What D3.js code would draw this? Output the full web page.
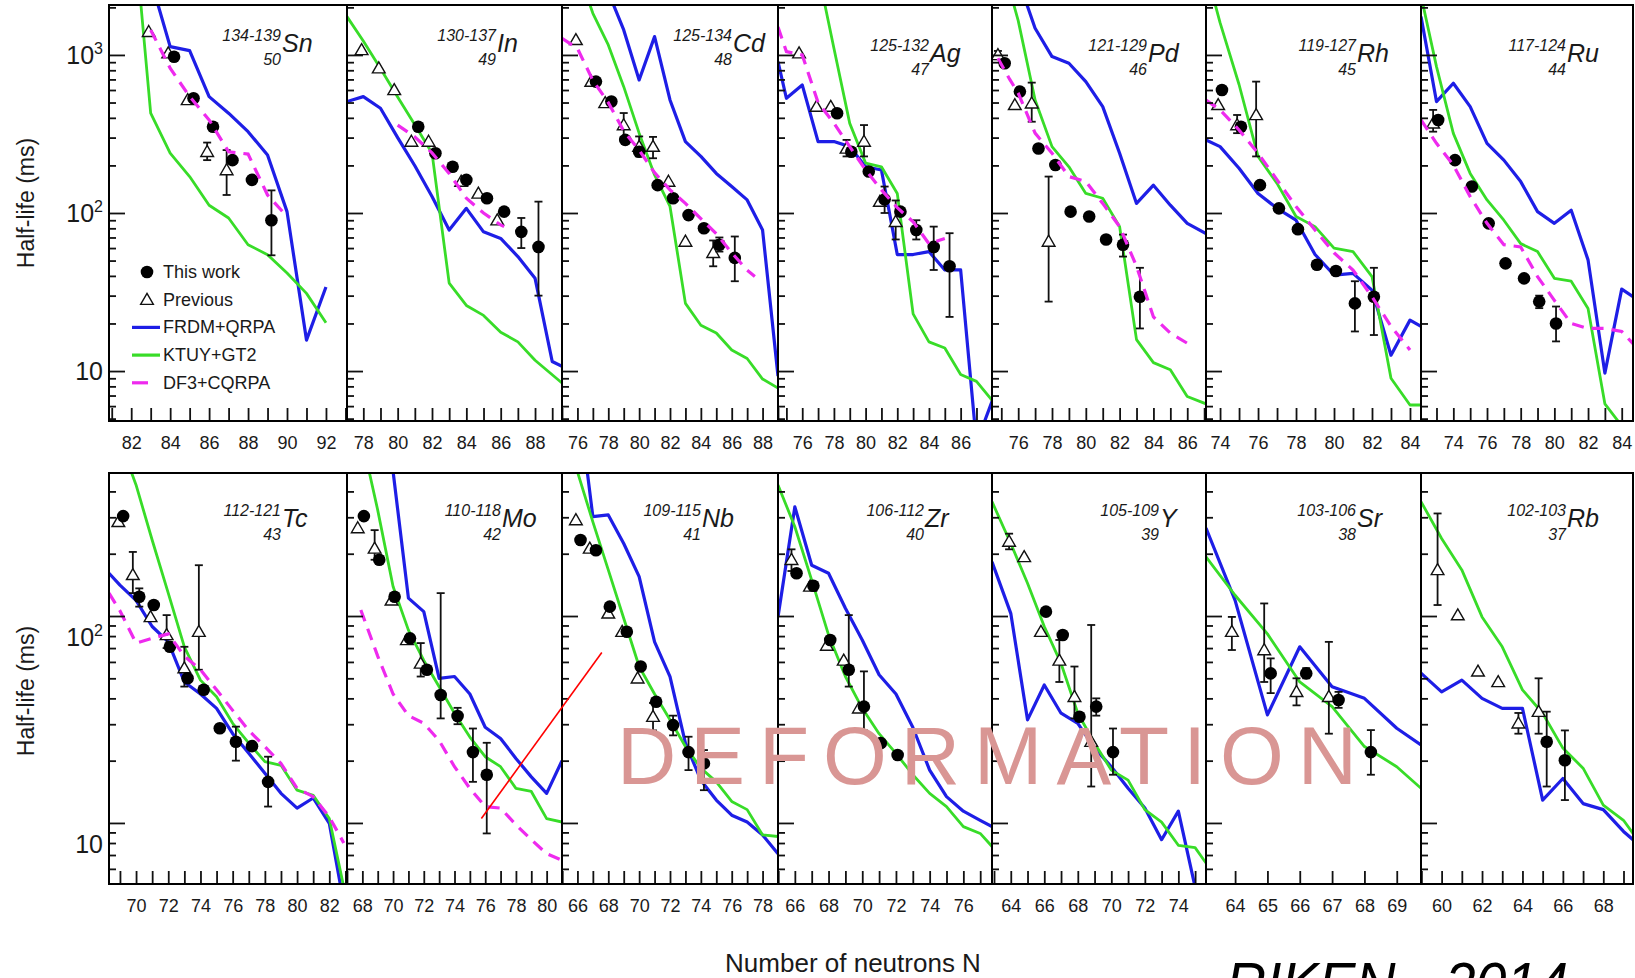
<!DOCTYPE html>
<html>
<head>
<meta charset="utf-8">
<script src="https://cdn.jsdelivr.net/npm/d3@7"></script>
<style>
  html, body { margin: 0; padding: 0; background: #fff; }
  svg { display: block; }
  text { font-family: "Liberation Sans", Arial, Helvetica, sans-serif; fill: #1a1a1a; }
</style>
</head>
<body>
<svg id="chart" width="1635" height="978"></svg>
<script>
// Half-lives (ms) versus neutron number N, one panel per element.
// Points: [N, T1/2] or [N, T1/2, low, high] when an error bar is drawn.
// Model curves: [N, T1/2].

const symbols = ["Sn", "In", "Cd", "Ag", "Pd", "Rh", "Ru", "Tc", "Mo", "Nb", "Zr", "Y", "Sr", "Rb"];
const protons = [50, 49, 48, 47, 46, 45, 44, 43, 42, 41, 40, 39, 38, 37];
const massRanges = ["134-139", "130-137", "125-134", "125-132", "121-129", "119-127", "117-124",
                    "112-121", "110-118", "109-115", "106-112", "105-109", "103-106", "102-103"];
const nRanges = [
  [80.86, 93.08], [77.05, 89.57], [75, 89], [74.47, 87.98], [74.45, 87.11], [73.26, 84.58], [72.08, 84.67],
  [68.32, 83.1], [67, 81], [65, 79], [65, 77.7], [62.88, 75.65], [63.1, 69.75], [58.98, 69.47]
];
const labelSteps = [2, 2, 2, 2, 2, 2, 2, 2, 2, 2, 2, 2, 1, 2];
const legendLabels = ["This work", "Previous", "FRDM+QRPA", "KTUY+GT2", "DF3+CQRPA"];

// --- Sn
const snWork = [[84.2, 975], [85.2, 532], [86.2, 351], [87.2, 216], [88.2, 162], [89.2, 90, 54, 139]];
const snPrev = [[82.9, 1400], [83.9, 1025], [84.9, 519], [85.9, 244, 216, 279], [86.9, 187, 130, 250]];
const snFrdm = [[83, 3000], [84, 1129], [85, 1064], [86, 545], [87, 428], [88, 327], [89, 233], [90, 102], [91, 15.7], [92, 34]];
const snKtuy = [[82, 10000], [83, 428], [84, 239], [85, 170], [86, 112], [87, 93], [88, 63], [89, 54.5], [90, 41.7], [91, 31], [92, 20.2]];
const snDf3 = [[83, 1440], [84, 824], [85, 545], [86, 388], [87, 244], [88, 236], [89, 130], [90, 95]];

// --- In
const inWork = [[81.2, 351], [82.2, 239], [83.2, 196], [84.0, 162], [85.2, 124], [86.2, 102], [87.2, 76, 60, 93], [88.2, 61, 30, 118]];
const inPrev = [[77.9, 1075], [78.9, 824], [79.8, 600], [80.8, 283], [81.8, 283], [83.7, 158], [84.7, 133], [85.8, 90]];
const inFrdm = [[77.05, 507], [78, 545], [79, 460], [80, 300], [81, 199], [82, 127], [83, 78], [84, 107], [85, 76], [86, 69], [87, 53], [88, 38.7], [89, 11.5], [89.57, 10.7]];
const inKtuy = [[77.05, 1747], [78, 1226], [79, 820], [80, 542], [81, 362], [82, 240], [83, 36], [84, 26], [85, 22.5], [86, 17.6], [87, 15.3], [88, 11.7], [89.57, 8.4]];
const inDf3 = [[80, 360], [81, 303], [82, 240], [83, 178], [84, 124], [85, 100], [86, 84], [86.2, 82]];

// --- Cd
const cdWork = [[77.2, 678], [78.2, 507], [79.1, 290], [80.0, 244], [81.2, 150], [82.2, 124], [83.2, 97], [84.2, 80], [85.2, 63, 57, 70], [86.2, 52, 37, 71]];
const cdPrev = [[75.9, 1245], [76.9, 678], [77.8, 497], [79, 360, 303, 429], [80, 263, 228, 305], [80.9, 263, 222, 303], [81.9, 158], [83, 66], [84.8, 56, 46, 67]];
const cdFrdm = [[78, 2500], [79, 1440], [80, 695], [81, 1306], [82, 519], [83, 283], [84, 228], [85, 178], [86, 147], [87, 121], [88, 78], [89, 9.3]];
const cdKtuy = [[76, 3500], [77, 1835], [78, 1157], [79, 630], [80, 320], [81, 174], [82, 110], [83, 26.8], [84, 19.5], [85, 17.4], [86, 13.6], [87, 12.0], [88, 8.9], [89, 7.8]];
const cdDf3 = [[75, 1275], [76, 1100], [77, 690], [78, 500], [79, 330], [80, 250], [81, 180], [82, 140], [83, 115], [84, 92], [85, 74], [86, 56], [87, 43.5], [87.5, 39.7]];

// --- Ag
const agWork = [[78.2, 428], [79.1, 244], [80.2, 183], [81.2, 122, 100, 147], [82.2, 102], [83.2, 78, 68, 90], [84.3, 61, 43.6, 82], [85.3, 46, 22, 74.5]];
const agPrev = [[75.8, 1025], [76.9, 471], [77.8, 471], [78.8, 256, 228, 290], [79.9, 283, 228, 360], [80.9, 118], [81.9, 88, 68, 120]];
const agFrdm = [[74.47, 907], [75, 532], [76, 646], [77, 283], [78, 283], [79, 263], [80, 196], [81, 187], [82, 54.6], [83, 54.6], [84, 57], [85, 43.6], [86, 43.6], [87, 3.5], [88, 6.5]];
const agKtuy = [[77, 3350], [78, 1102], [79, 369], [80, 207], [81, 196], [82, 133], [83, 23], [84, 15.3], [85, 14.0], [86, 9.5], [87, 8.6], [88, 6.5]];
const agDf3 = [[74.47, 1500], [75, 1050], [76, 1000], [77, 500], [78, 370], [79, 263], [80, 187], [81, 140], [82, 108], [83, 88], [84, 64], [85, 69]];

// --- Pd
const pdWork = [[75.2, 886], [76.1, 586], [77.2, 256], [78.2, 201], [79.1, 102], [80.2, 95], [81.2, 68], [82.2, 63, 53, 73], [83.2, 29.5, 18.6, 45]];
const pdPrev = [[74.8, 1000, 940, 1060], [75.8, 483], [76.8, 494, 378, 668], [77.8, 66, 27.5, 170]];
const pdFrdm = [[76, 3000], [77, 1475], [78, 976], [79, 886], [80, 678], [81, 471], [82, 239], [83, 115], [84, 150], [85, 112], [86, 86], [87.11, 74]];
const pdKtuy = [[75, 4000], [76, 1649], [77, 519], [78, 263], [79, 196], [80, 133], [81, 124], [82, 82], [83, 15.8], [84, 11.3], [85, 10.2], [86, 6.9], [87.11, 6.2]];
const pdDf3 = [[74.8, 953], [75.5, 700], [76, 574], [77, 320], [78, 239], [79, 170], [80, 158], [81, 115], [82, 82], [83, 46], [84, 22], [85, 17.4], [86, 15]];

// --- Rh
const rhWork = [[74.1, 600], [75.1, 351], [76.1, 150], [77.1, 107], [78.1, 79], [79.1, 47], [80.1, 43], [81.1, 26.8, 17.8, 37], [82.1, 29.5, 16.9, 45]];
const rhPrev = [[73.9, 483], [74.9, 360, 320, 417], [75.9, 417, 228, 678]];
const rhFrdm = [[73.26, 290], [74, 263], [75, 192], [76, 133], [77, 107], [78, 90], [79, 54.6], [80, 40.5], [81, 41.5], [82, 32.5], [83, 12.6], [84, 21], [84.58, 19.2]];
const rhKtuy = [[73, 4500], [74, 1600], [75, 650], [76, 228], [77, 154], [78, 95], [79, 82], [80, 60], [81, 57], [82, 39.6], [83, 9.0], [84, 6.1], [84.58, 6.1]];
const rhDf3 = [[73.26, 519], [74, 449], [75, 335], [76, 239], [77, 162], [78, 110], [79, 78], [80, 56], [81, 43.6], [82, 29.5], [83, 19.2], [84, 13.6]];

// --- Ru
const ruWork = [[73.1, 388], [74.1, 216], [75.1, 147], [76.1, 86], [77.1, 48], [78.2, 38.6], [79.1, 27.5, 25, 30], [80.1, 20, 15.4, 25.6]];
const ruPrev = [[72.8, 369, 327, 449]];
const ruFrdm = [[72.08, 1747], [73, 507], [74, 662], [75, 471], [76, 276], [77, 216], [78, 158], [79, 102], [80, 86], [81, 104], [82, 50.5], [83, 9.7], [84, 33], [84.67, 29.5]];
const ruKtuy = [[72, 2600], [73, 844], [74, 319], [75, 178], [76, 121], [77, 90], [78, 64], [79, 57], [80, 38.6], [81, 37], [82, 24.9], [83, 6.2], [84, 4.5]];
const ruDf3 = [[72.08, 388], [73, 276], [74, 201], [75, 127], [76, 86], [77, 63], [78, 61], [79, 39.6], [80, 28], [81, 20], [82, 18.6], [83, 18.6], [84, 17.8], [84.67, 14.9]];

// --- Tc
const tcWork = [[69.2, 304], [70.2, 124, 111, 136], [71.1, 113], [72.1, 71], [73.2, 50], [74.2, 44], [75.2, 28.7], [76.2, 24.7, 20, 29.2], [77.2, 23.5], [78.2, 15.8, 12, 20.9]];
const tcPrev = [[68.9, 285], [69.8, 158, 129, 204], [70.9, 99], [71.9, 81, 70, 101], [73, 56, 45.6, 71], [73.9, 84, 55, 176]];
const tcFrdm = [[68.32, 161], [69, 141], [70, 119], [71, 89], [72, 75], [73, 48], [74, 42], [75, 35.8], [76, 27], [77, 21.7], [78, 17.4], [79, 13.9], [80, 11.8], [81, 13.2], [82, 9.96], [83, 3.7]];
const tcKtuy = [[69, 700], [70, 430], [71, 233], [72, 129], [73, 71], [74, 49], [75, 40.7], [76, 30.3], [77, 24.3], [78, 19.8], [79, 19.0], [80, 14.4], [81, 13.6], [82, 10.5], [83, 4.5]];
const tcDf3 = [[68.32, 129], [69, 106], [70, 74], [71, 78], [72, 82], [73, 64], [74, 55], [75, 44], [76, 35], [77, 28], [78, 23.4], [79, 19.4], [80, 14.7], [81, 13.4], [82, 10.7], [82.9, 8.0]];

// --- Mo
const moWork = [[68.1, 304], [69.1, 187], [70.1, 124], [71.1, 78], [72.2, 55], [73.1, 41.5, 32, 129], [74.2, 32.9, 30, 36], [75.2, 22, 15.8, 28.6], [76.1, 17.1, 8.9, 24.4]];
const moPrev = [[67.7, 266], [68.8, 212, 187, 260], [69.9, 119], [70.9, 76.6], [71.8, 59, 51, 74]];
const moFrdm = [[69, 3000], [70, 500], [71, 122], [72, 105], [73, 50], [74, 51], [75, 42], [76, 29], [77, 25.6], [78, 20.5], [79, 16.7], [80, 13.9], [81, 20]];
const moKtuy = [[68, 700], [69, 325], [70, 139], [71, 85.5], [72, 61], [73, 45.5], [74, 33.9], [75, 26], [76, 20.9], [77, 18.7], [78, 14.7], [79, 14.2], [80, 10.5], [81, 10.1]];
const moDf3 = [[67.9, 107], [69, 64], [70, 42], [71, 33], [72, 30.3], [73, 25], [74, 18.7], [75, 14.7], [76, 12.0], [77, 11.8], [78, 9.8], [79, 8.3], [80, 7.1], [81, 6.6]];

// --- Nb
const nbWork = [[66.2, 233], [67.2, 208], [68.1, 111], [69.2, 84], [70.1, 57], [71.1, 38.5], [72.2, 29.7, 26.5, 33], [73.2, 22, 18, 26.1], [74.2, 19.4, 14.4, 22.5]];
const nbPrev = [[65.9, 291], [66.8, 212], [68, 103], [68.9, 84], [69.9, 50], [70.9, 32.6, 28, 38]];
const nbFrdm = [[66, 1200], [67, 302], [68, 308], [69, 224], [70, 155], [71, 75], [72, 51], [73, 24.3], [74, 16.1], [75, 12.9], [76, 10.9], [77, 10.1], [78, 8.75], [79, 7.1]];
const nbKtuy = [[65, 900], [66, 498], [67, 285], [68, 167], [69, 97.5], [70, 57], [71, 42], [72, 31.5], [73, 23.4], [74, 18.4], [75, 15.8], [76, 12.7], [77, 11.6], [78, 8.75], [79, 8.6]];

// --- Zr
const zrWork = [[66.1, 161], [67.1, 140], [68.1, 76.6], [69.2, 55, 45.6, 101], [70.1, 36.5, 28, 54], [71.1, 24.3], [72.1, 21.3]];
const zrPrev = [[65.8, 187, 165, 210], [66.9, 139], [67.9, 72], [68.9, 61], [69.8, 35.8]];
const zrFrdm = [[65, 99], [66, 337], [67, 176], [68, 161], [69, 109], [70, 76.6], [71, 52], [72, 42], [73, 29], [74, 18], [75, 13.4], [76, 11.4], [77, 10.3], [77.7, 9.6]];
const zrKtuy = [[65, 430], [66, 270], [67, 149], [68, 81], [69, 51], [70, 35.8], [71, 27], [72, 21.7], [73, 17.1], [74, 13.9], [75, 12.0], [76, 9.6], [77, 8.9], [77.7, 7.7]];

// --- Y
const yWork = [[66.1, 105], [67.1, 81], [68.1, 32.6], [69.1, 36.5, 33, 40], [70.1, 22, 17.1, 28.6]];
const yPrev = [[63.9, 229, 210, 250], [64.8, 193], [65.8, 84], [66.9, 61, 48, 76.6], [67.8, 40.7, 32, 57], [68.8, 24.7, 15, 90.5]];
const yFrdm = [[62.88, 183], [64, 103], [65, 31.5], [66, 46.4], [67, 33.9], [68, 30.3], [69, 23], [70, 18.7], [71, 14.7], [72, 11.8], [73, 8.3], [74, 11.4], [75, 4.9]];
const yKtuy = [[62.88, 357], [64, 224], [65, 144], [66, 89], [67, 59], [68, 33.9], [69, 24.3], [70, 18], [71, 16.1], [72, 11.6], [73, 10.1], [74, 7.8], [75, 7.6], [75.65, 6.4]];

// --- Sr
const srWork = [[65.1, 52.8, 42.4, 62.4], [66.2, 52.8, 50, 56], [67.2, 39.3, 36, 43], [68.2, 22, 17.1, 28.1]];
const srPrev = [[63.9, 84, 68.5, 99], [64.9, 68.5, 48, 115], [65.9, 43, 37, 50], [66.9, 40.7, 27, 75]];
const srFrdm = [[63.1, 266], [64, 119], [65, 33.3], [66, 71], [67, 45.5], [68, 40], [69, 28.7], [69.75, 23.8]];
const srKtuy = [[63.1, 193], [64, 126], [65, 82], [66, 48], [67, 36.5], [68, 23.4], [69, 18.7], [69.75, 14.7]];

// --- Rb
const rbWork = [[65.2, 24.7, 15, 34.5], [66.1, 20.1, 12.9, 28]];
const rbPrev = [[59.8, 167, 113, 313], [60.8, 101], [61.8, 54], [62.8, 48], [63.8, 30.3, 27, 34], [64.8, 34.5, 27, 50]];
const rbFrdm = [[58.98, 53], [60, 43], [61, 49], [62, 40], [63, 35.8], [64, 35.8], [65, 12.9], [66, 16.4], [67, 12.4], [68, 11.6], [69, 9.1], [69.47, 8.3]];
const rbKtuy = [[58.98, 357], [60, 237], [61, 167], [62, 99], [63, 71], [64, 44], [65, 33.9], [66, 23], [67, 18.4], [68, 12.2], [69, 10.3], [69.47, 8.9]];

// red pointer from the Mo panel to the Nb panel: [N, T1/2] in each panel's own scale
const pointerFrom = [75.75, 10.5];
const pointerTo = [67.58, 66.6];

const panels = symbols.map((sym, i) => ({
  sym,
  z: protons[i],
  mass: massRanges[i],
  nRange: nRanges[i],
  step: labelSteps[i],
  work: [snWork, inWork, cdWork, agWork, pdWork, rhWork, ruWork, tcWork, moWork, nbWork, zrWork, yWork, srWork, rbWork][i],
  prev: [snPrev, inPrev, cdPrev, agPrev, pdPrev, rhPrev, ruPrev, tcPrev, moPrev, nbPrev, zrPrev, yPrev, srPrev, rbPrev][i],
  frdm: [snFrdm, inFrdm, cdFrdm, agFrdm, pdFrdm, rhFrdm, ruFrdm, tcFrdm, moFrdm, nbFrdm, zrFrdm, yFrdm, srFrdm, rbFrdm][i],
  ktuy: [snKtuy, inKtuy, cdKtuy, agKtuy, pdKtuy, rhKtuy, ruKtuy, tcKtuy, moKtuy, nbKtuy, zrKtuy, yKtuy, srKtuy, rbKtuy][i],
  df3: [snDf3, inDf3, cdDf3, agDf3, pdDf3, rhDf3, ruDf3, tcDf3, moDf3, null, null, null, null, null][i],
}));

// layout
const colEdges = [109, 347, 562, 778, 992, 1206, 1421, 1633];
const rows = [
  { top: 5, bottom: 421, domain: [4.83, 2070], labelDrop: 0 },
  { top: 473, bottom: 884, domain: [5.07, 491], labelDrop: 21 },
];
const titleInset = [65, 65, 45, 62, 58, 64, 66, 65, 60, 76, 67, 46, 64, 66];
const titleDrop = [47, 47, 47, 57, 57, 57, 57, 54, 54, 54, 54, 54, 54, 54];
const blue = "#1e1ee6", green = "#38dc28", magenta = "#ee2aee";

const svg = d3.select("#chart");
const scales = [];

const logTicks = ([lo, hi]) => {
  const out = [];
  for (let e = 0; e <= 3; e++)
    for (let k = 1; k <= 9; k++) {
      const v = k * 10 ** e;
      if (v >= lo && v <= hi) out.push(v);
    }
  return out;
};

const drawPoints = (g, data, x, y, kind) => {
  const bars = data.filter((d) => d.length > 2);
  const eb = g.append("g").attr("stroke", "#111").attr("stroke-width", 1.8);
  eb.selectAll("line.v").data(bars).join("line")
    .attr("x1", (d) => x(d[0])).attr("x2", (d) => x(d[0]))
    .attr("y1", (d) => y(d[2])).attr("y2", (d) => y(d[3]));
  for (const k of [2, 3])
    eb.selectAll(`line.c${k}`).data(bars).join("line")
      .attr("x1", (d) => x(d[0]) - 4).attr("x2", (d) => x(d[0]) + 4)
      .attr("y1", (d) => y(d[k])).attr("y2", (d) => y(d[k]));

  if (kind === "work")
    g.append("g").selectAll("circle").data(data).join("circle")
      .attr("cx", (d) => x(d[0])).attr("cy", (d) => y(d[1]))
      .attr("r", 6.3).attr("fill", "#000");
  else
    g.append("g").selectAll("path").data(data).join("path")
      .attr("transform", (d) => `translate(${x(d[0])},${y(d[1]) + 1})`)
      .attr("d", d3.symbol(d3.symbolTriangle, 70))
      .attr("fill", "#fff").attr("stroke", "#111").attr("stroke-width", 1.4);
};

panels.forEach((p, i) => {
  const row = rows[i < 7 ? 0 : 1];
  const col = i % 7;
  const left = colEdges[col], right = colEdges[col + 1];

  const x = d3.scaleLinear().domain(p.nRange).range([left, right]);
  const y = d3.scaleLog().domain(row.domain).range([row.bottom, row.top]);
  scales.push({ x, y });

  const clipId = `clip-${i}`;
  svg.append("clipPath").attr("id", clipId).append("rect")
    .attr("x", left).attr("y", row.top)
    .attr("width", right - left).attr("height", row.bottom - row.top);

  const plot = svg.append("g").attr("clip-path", `url(#${clipId})`);
  const line = d3.line().x((d) => x(d[0])).y((d) => y(d[1]));

  plot.append("path").attr("d", line(p.frdm))
    .attr("fill", "none").attr("stroke", blue).attr("stroke-width", 3.2).attr("stroke-linejoin", "round");
  plot.append("path").attr("d", line(p.ktuy))
    .attr("fill", "none").attr("stroke", green).attr("stroke-width", 2.8).attr("stroke-linejoin", "round");

  drawPoints(plot, p.prev, x, y, "prev");
  drawPoints(plot, p.work, x, y, "work");

  if (p.df3)
    plot.append("path").attr("d", line(p.df3))
      .attr("fill", "none").attr("stroke", magenta).attr("stroke-width", 3.2)
      .attr("stroke-dasharray", "12,8");

  // ticks: x every neutron, y log minor/major
  const nTicks = d3.range(Math.ceil(p.nRange[0]), Math.floor(p.nRange[1]) + 1);
  const xAxis = svg.append("g")
    .attr("transform", `translate(0,${row.bottom})`)
    .call(d3.axisBottom(x).tickValues(nTicks).tickSize(-13).tickPadding(15)
      .tickFormat((d) => (d % p.step === 0 ? d : "")));
  xAxis.select(".domain").remove();
  xAxis.selectAll("line").attr("stroke", "#111").attr("stroke-width", 1.8);
  xAxis.selectAll("text").attr("font-size", 18).attr("font-family", null).attr("fill", "#222");

  const yt = logTicks(row.domain);
  const majors = yt.filter((v) => Math.abs(Math.log10(v) % 1) < 1e-9);
  const minors = yt.filter((v) => !majors.includes(v));
  for (const [vals, size] of [[minors, -7], [majors, -16]]) {
    const ya = svg.append("g").attr("transform", `translate(${left},0)`)
      .call(d3.axisLeft(y).tickValues(vals).tickSize(size).tickFormat(""));
    ya.select(".domain").remove();
    ya.selectAll("line").attr("stroke", "#111").attr("stroke-width", 1.8);
  }

  if (col === 0) {
    for (const v of majors) {
      const e = Math.round(Math.log10(v));
      const t = svg.append("text")
        .attr("x", 103).attr("y", y(v) + 9 + row.labelDrop)
        .attr("text-anchor", "end").attr("font-size", 25).text("10");
      if (e > 1) t.append("tspan").attr("dy", -10).attr("font-size", 16).text(e);
    }
  }

  svg.append("rect")
    .attr("x", left).attr("y", row.top)
    .attr("width", right - left).attr("height", row.bottom - row.top)
    .attr("fill", "none").attr("stroke", "#000").attr("stroke-width", 2);

  // nucleus label: mass range above, Z below, symbol to the right
  const tx = right - titleInset[i];
  const by = row.top + titleDrop[i];
  const title = svg.append("g").attr("font-style", "italic");
  title.append("text").attr("x", tx - 1).attr("y", by - 11)
    .attr("text-anchor", "end").attr("font-size", 16).text(p.mass);
  title.append("text").attr("x", tx).attr("y", by).attr("font-size", 25).text(p.sym);
  title.append("text").attr("x", tx - 1).attr("y", by + 13)
    .attr("text-anchor", "end").attr("font-size", 16).text(p.z);
});

// legend inside the Sn panel
const legend = svg.append("g");
const lx = 147, ly = 272, step = 27.7;
legendLabels.forEach((label, k) => {
  const cy = ly + k * step;
  if (k === 0) legend.append("circle").attr("cx", lx).attr("cy", cy).attr("r", 6.3).attr("fill", "#000");
  else if (k === 1)
    legend.append("path").attr("transform", `translate(${lx},${cy + 1})`)
      .attr("d", d3.symbol(d3.symbolTriangle, 70))
      .attr("fill", "#fff").attr("stroke", "#111").attr("stroke-width", 1.4);
  else
    legend.append("line").attr("x1", 132).attr("x2", k === 4 ? 148 : 160)
      .attr("y1", cy).attr("y2", cy)
      .attr("stroke", [blue, green, magenta][k - 2]).attr("stroke-width", 3.2);
  legend.append("text").attr("x", 163).attr("y", cy + 6).attr("font-size", 18).text(label);
});

// axis titles
for (const cy of [203, 691])
  svg.append("text")
    .attr("transform", `translate(34,${cy}) rotate(-90)`)
    .attr("text-anchor", "middle").attr("font-size", 23).text("Half-life (ms)");

svg.append("text").attr("x", 853).attr("y", 972)
  .attr("text-anchor", "middle").attr("font-size", 26).text("Number of neutrons N");

// red pointer from Mo (N=76) to the Nb curve
const mo = scales[8], nb = scales[9];
svg.append("line")
  .attr("x1", mo.x(pointerFrom[0])).attr("y1", mo.y(pointerFrom[1]))
  .attr("x2", nb.x(pointerTo[0])).attr("y2", nb.y(pointerTo[1]))
  .attr("stroke", "#ff0000").attr("stroke-width", 1.6);

svg.append("text")
  .attr("x", 617).attr("y", 784)
  .attr("textLength", 740).attr("lengthAdjust", "spacing")
  .attr("font-family", "Lato, 'Open Sans', sans-serif").attr("font-size", 82)
  .style("fill", "#d99694").text("DEFORMATION");

svg.append("text")
  .attr("x", 1226).attr("y", 1004)
  .attr("textLength", 342).attr("lengthAdjust", "spacingAndGlyphs")
  .attr("font-family", "Lato, 'Open Sans', sans-serif").attr("font-style", "italic")
  .attr("font-size", 60).style("fill", "#000").text("RIKEN - 2014");
</script>
</body>
</html>
